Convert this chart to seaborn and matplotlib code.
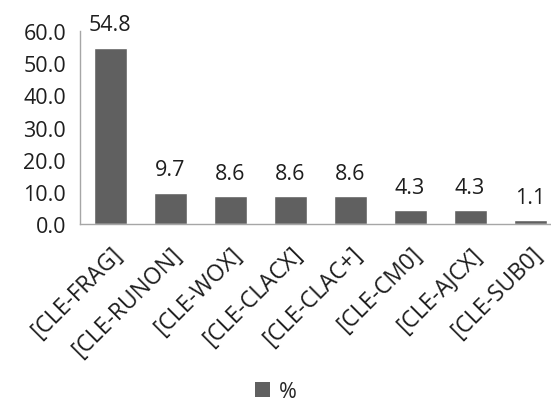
import matplotlib
matplotlib.use("Agg")
import matplotlib.pyplot as plt
import seaborn as sns
import pandas as pd
from matplotlib.patches import Patch

categories = ["[CLE-FRAG]", "[CLE-RUNON]", "[CLE-WOX]", "[CLE-CLACX]",
              "[CLE-CLAC+]", "[CLE-CM0]", "[CLE-AJCX]", "[CLE-SUB0]"]
percent = [54.8, 9.7, 8.6, 8.6, 8.6, 4.3, 4.3, 1.1]
yticks = [0, 10, 20, 30, 40, 50, 60]
series_name = "%"

df = pd.DataFrame({"category": categories, "value": percent})

sns.set_theme(style="white")
plt.rcParams["font.family"] = ["Open Sans", "DejaVu Sans"]

fs = 15.5
text_color = "#1e1e1e"
bar_color = "#606060"
fig = plt.figure(figsize=(5.51, 4.06), dpi=100)
ax = fig.add_axes([80 / 551, 1 - 225 / 406, 471 / 551, 193 / 406])

sns.barplot(data=df, x="category", y="value", color=bar_color, width=0.55,
            saturation=1, ax=ax)

ax.set_xlim(-0.5, 7.35)
ax.set_ylim(0, 60)
ax.set_yticks(yticks)
ax.set_yticklabels([f"{t:.1f}" for t in yticks], fontsize=fs, color=text_color)
ax.tick_params(axis="y", length=0, pad=10)
ax.tick_params(axis="x", length=0, pad=13)
ax.set_xticks(range(len(categories)))
ax.set_xticklabels(categories, rotation=45, ha="right", rotation_mode="anchor",
                   fontsize=16.5, color=text_color)
ax.set_xlabel("")
ax.set_ylabel("")

for side in ["top", "right"]:
    ax.spines[side].set_visible(False)
for side in ["left", "bottom"]:
    ax.spines[side].set_color("#a6a6a6")
    ax.spines[side].set_linewidth(1.0)

for i, v in enumerate(percent):
    ax.annotate(f"{v:.1f}", (i, v), xytext=(0, 9), textcoords="offset points",
                ha="center", va="bottom", fontsize=fs, color=text_color,
                annotation_clip=False)

handle = Patch(facecolor=bar_color, edgecolor="none")
fig.legend([handle], [series_name], loc="lower center",
           bbox_to_anchor=(0.5, -0.04), frameon=False, fontsize=fs,
           handlelength=0.7, handleheight=0.7, handletextpad=0.4)

fig.savefig("out.png", dpi=100)
